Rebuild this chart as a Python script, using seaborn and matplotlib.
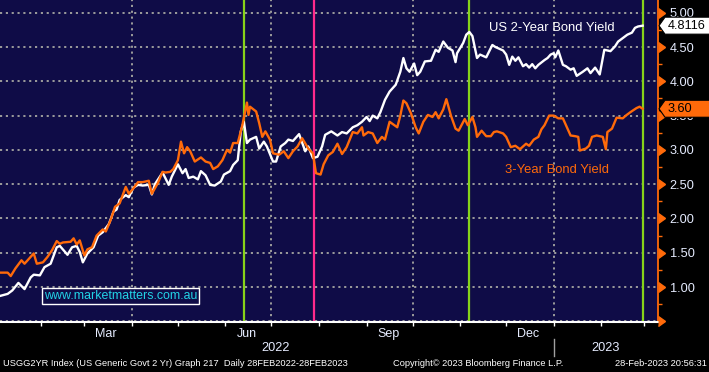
import numpy as np
import pandas as pd
import matplotlib
matplotlib.use("Agg")
import matplotlib.pyplot as plt
import matplotlib.dates as mdates
from matplotlib.ticker import MultipleLocator, FixedLocator, FixedFormatter, NullFormatter, FuncFormatter
from matplotlib.transforms import blended_transform_factory, IdentityTransform
from matplotlib.patches import Polygon
import seaborn as sns

# ---------------- data ----------------
us2_dates = [
    "2022-01-05", "2022-01-10", "2022-01-13", "2022-01-17", "2022-01-21", "2022-01-25", "2022-01-27", "2022-01-31",
    "2022-02-03", "2022-02-07", "2022-02-09", "2022-02-11", "2022-02-13", "2022-02-18", "2022-02-21", "2022-02-24",
    "2022-02-26", "2022-02-28", "2022-03-03", "2022-03-07", "2022-03-10", "2022-03-13", "2022-03-17", "2022-03-20",
    "2022-03-22", "2022-03-24", "2022-03-28", "2022-03-30", "2022-04-02", "2022-04-05", "2022-04-08", "2022-04-12",
    "2022-04-14", "2022-04-16", "2022-04-21", "2022-04-25", "2022-04-27", "2022-05-01", "2022-05-04", "2022-05-06",
    "2022-05-08", "2022-05-11", "2022-05-14", "2022-05-16", "2022-05-19", "2022-05-22", "2022-05-25", "2022-05-29",
    "2022-05-31", "2022-06-04", "2022-06-06", "2022-06-09", "2022-06-11", "2022-06-13", "2022-06-15", "2022-06-17",
    "2022-06-21", "2022-06-23", "2022-06-26", "2022-06-28", "2022-07-02", "2022-07-04", "2022-07-07", "2022-07-10",
    "2022-07-12", "2022-07-15", "2022-07-19", "2022-07-23", "2022-07-25", "2022-07-28", "2022-07-31", "2022-08-03",
    "2022-08-05", "2022-08-09", "2022-08-13", "2022-08-16", "2022-08-19", "2022-08-23", "2022-08-26", "2022-08-29",
    "2022-09-01", "2022-09-03", "2022-09-05", "2022-09-08", "2022-09-10", "2022-09-13", "2022-09-16", "2022-09-20",
    "2022-09-23", "2022-09-25", "2022-09-27", "2022-09-29", "2022-10-02", "2022-10-04", "2022-10-06", "2022-10-09",
    "2022-10-13", "2022-10-16", "2022-10-18", "2022-10-21", "2022-10-24", "2022-10-27", "2022-10-29", "2022-10-30",
    "2022-11-03", "2022-11-05", "2022-11-07", "2022-11-09", "2022-11-12", "2022-11-14", "2022-11-18", "2022-11-22",
    "2022-11-24", "2022-11-29", "2022-12-01", "2022-12-03", "2022-12-05", "2022-12-07", "2022-12-09", "2022-12-12",
    "2022-12-14", "2022-12-16", "2022-12-18", "2022-12-20", "2022-12-22", "2022-12-26", "2022-12-28", "2022-12-30",
    "2023-01-01", "2023-01-02", "2023-01-04", "2023-01-07", "2023-01-09", "2023-01-12", "2023-01-14", "2023-01-16",
    "2023-01-20", "2023-01-23", "2023-01-25", "2023-01-28", "2023-01-31", "2023-02-03", "2023-02-07", "2023-02-10",
    "2023-02-12", "2023-02-15", "2023-02-18", "2023-02-21", "2023-02-23", "2023-02-25", "2023-02-28",
]
us2_yield = [
    0.87, 0.90, 0.95, 1.06, 0.97, 1.14, 1.18, 1.17,
    1.29, 1.34, 1.46, 1.58, 1.60, 1.47, 1.58, 1.60,
    1.51, 1.36, 1.49, 1.58, 1.75, 1.80, 1.92, 2.10,
    2.13, 2.27, 2.34, 2.31, 2.45, 2.49, 2.48, 2.49,
    2.35, 2.50, 2.67, 2.49, 2.61, 2.79, 2.66, 2.72,
    2.59, 2.61, 2.57, 2.69, 2.63, 2.49, 2.48, 2.54,
    2.64, 2.69, 2.78, 2.85, 3.27, 3.41, 3.10, 3.15,
    3.19, 3.02, 3.12, 3.05, 2.83, 2.83, 3.05, 3.10,
    3.15, 3.13, 3.23, 2.98, 3.05, 2.88, 2.90, 3.05,
    3.22, 3.27, 3.21, 3.26, 3.24, 3.33, 3.36, 3.41,
    3.48, 3.42, 3.50, 3.46, 3.55, 3.73, 3.85, 3.95,
    4.14, 4.34, 4.19, 4.14, 4.26, 4.09, 4.14, 4.29,
    4.30, 4.46, 4.43, 4.58, 4.49, 4.45, 4.28, 4.41,
    4.56, 4.68, 4.72, 4.66, 4.34, 4.39, 4.35, 4.53,
    4.50, 4.45, 4.39, 4.24, 4.36, 4.30, 4.35, 4.22,
    4.25, 4.20, 4.25, 4.19, 4.24, 4.31, 4.34, 4.39,
    4.41, 4.35, 4.45, 4.24, 4.22, 4.17, 4.19, 4.08,
    4.14, 4.19, 4.12, 4.20, 4.10, 4.46, 4.44, 4.51,
    4.58, 4.63, 4.68, 4.71, 4.78, 4.80, 4.8116,
]

au3_dates = [
    "2022-01-05", "2022-01-10", "2022-01-12", "2022-01-15", "2022-01-19", "2022-01-21", "2022-01-27", "2022-01-29",
    "2022-02-02", "2022-02-05", "2022-02-08", "2022-02-11", "2022-02-13", "2022-02-15", "2022-02-20", "2022-02-22",
    "2022-02-24", "2022-02-26", "2022-03-01", "2022-03-03", "2022-03-06", "2022-03-09", "2022-03-13", "2022-03-15",
    "2022-03-18", "2022-03-21", "2022-03-24", "2022-03-28", "2022-03-30", "2022-04-02", "2022-04-05", "2022-04-08",
    "2022-04-12", "2022-04-14", "2022-04-18", "2022-04-21", "2022-04-23", "2022-04-26", "2022-04-28", "2022-05-01",
    "2022-05-03", "2022-05-05", "2022-05-07", "2022-05-09", "2022-05-12", "2022-05-16", "2022-05-19", "2022-05-22",
    "2022-05-24", "2022-05-27", "2022-05-30", "2022-06-02", "2022-06-04", "2022-06-06", "2022-06-09", "2022-06-12",
    "2022-06-15", "2022-06-16", "2022-06-17", "2022-06-21", "2022-06-23", "2022-06-25", "2022-06-27", "2022-06-30",
    "2022-07-02", "2022-07-06", "2022-07-09", "2022-07-12", "2022-07-15", "2022-07-18", "2022-07-21", "2022-07-25",
    "2022-07-28", "2022-07-30", "2022-08-02", "2022-08-04", "2022-08-07", "2022-08-10", "2022-08-13", "2022-08-16",
    "2022-08-19", "2022-08-23", "2022-08-26", "2022-08-29", "2022-08-30", "2022-09-02", "2022-09-05", "2022-09-08",
    "2022-09-11", "2022-09-13", "2022-09-16", "2022-09-21", "2022-09-23", "2022-09-25", "2022-09-27", "2022-09-30",
    "2022-10-03", "2022-10-05", "2022-10-08", "2022-10-11", "2022-10-14", "2022-10-16", "2022-10-18", "2022-10-21",
    "2022-10-23", "2022-10-26", "2022-10-29", "2022-10-31", "2022-11-04", "2022-11-06", "2022-11-09", "2022-11-11",
    "2022-11-12", "2022-11-15", "2022-11-18", "2022-11-21", "2022-11-23", "2022-11-25", "2022-11-29", "2022-12-01",
    "2022-12-04", "2022-12-07", "2022-12-10", "2022-12-14", "2022-12-16", "2022-12-19", "2022-12-22", "2022-12-24",
    "2022-12-26", "2022-12-29", "2023-01-01", "2023-01-04", "2023-01-07", "2023-01-09", "2023-01-12", "2023-01-15",
    "2023-01-17", "2023-01-18", "2023-01-22", "2023-01-24", "2023-01-26", "2023-01-29", "2023-02-02", "2023-02-04",
    "2023-02-05", "2023-02-08", "2023-02-11", "2023-02-15", "2023-02-17", "2023-02-20", "2023-02-22", "2023-02-24",
    "2023-02-26", "2023-02-28",
]
au3_yield = [
    1.21, 1.21, 1.16, 1.27, 1.39, 1.34, 1.49, 1.34,
    1.36, 1.44, 1.54, 1.67, 1.63, 1.65, 1.66, 1.71,
    1.62, 1.68, 1.46, 1.55, 1.58, 1.75, 1.84, 1.81,
    1.97, 2.17, 2.22, 2.46, 2.36, 2.44, 2.53, 2.53,
    2.55, 2.36, 2.52, 2.68, 2.67, 2.68, 2.72, 2.85,
    3.12, 2.95, 3.04, 2.98, 2.83, 2.89, 2.83, 2.81,
    2.72, 2.76, 2.85, 3.00, 2.96, 3.10, 3.10, 3.36,
    3.69, 3.51, 3.63, 3.56, 3.39, 3.19, 3.27, 3.15,
    2.95, 2.93, 2.98, 2.88, 2.98, 3.05, 3.17, 3.02,
    2.95, 2.66, 2.64, 2.79, 2.92, 2.97, 3.09, 2.94,
    3.04, 3.26, 3.24, 3.33, 3.21, 3.26, 3.24, 3.10,
    3.19, 3.15, 3.41, 3.33, 3.50, 3.72, 3.68, 3.53,
    3.33, 3.24, 3.41, 3.51, 3.48, 3.55, 3.46, 3.59,
    3.74, 3.50, 3.31, 3.28, 3.45, 3.36, 3.48, 3.33,
    3.19, 3.28, 3.20, 3.20, 3.26, 3.27, 3.24, 3.19,
    3.04, 3.06, 3.01, 3.09, 3.06, 3.15, 3.19, 3.30,
    3.36, 3.50, 3.50, 3.46, 3.46, 3.36, 3.21, 3.20,
    3.19, 2.99, 3.02, 3.06, 3.19, 3.21, 3.19, 3.01,
    3.26, 3.31, 3.47, 3.46, 3.50, 3.55, 3.58, 3.61,
    3.63, 3.60,
]

series_names = ["US 2-Year Bond Yield", "3-Year Bond Yield"]
event_green_dates = ["2022-06-13", "2022-11-07", "2023-02-28"]
event_pink_dates = ["2022-07-29"]
quarter_grid_dates = ["2022-04-01", "2022-07-01", "2022-10-01", "2023-01-01"]
month_labels = ["Mar", "Jun", "Sep", "Dec"]
month_label_dates = ["2022-03-15", "2022-06-15", "2022-09-15", "2022-12-15"]
year_labels = ["2022", "2023"]
year_label_dates = ["2022-07-04", "2023-02-04"]
year_break_date = "2023-01-01"
x_range = ["2022-01-05", "2023-03-10"]
y_range = [0.49, 5.186]
name_label_pos = [("2022-11-20", 4.776), ("2022-11-30", 2.71)]
watermark = "www.marketmatters.com.au"
footer_left = "USGG2YR Index (US Generic Govt 2 Yr) Graph 217  Daily 28FEB2022-28FEB2023"
footer_mid = "Copyright\u00a9 2023 Bloomberg Finance L.P."
footer_right = "28-Feb-2023 20:56:31"

# ---------------- style ----------------
BG = "#0f0c47"
ORANGE = "#ff6a0a"
WHITE = "#ffffff"
TXT = "#e6ecff"
GRID = "#9c9c9c"
GREEN = "#86d31a"
PINK = "#ff2a8c"
CYAN = "#22d3e6"
FONT = ["Liberation Sans", "DejaVu Sans"]

W, H = 709, 372
fig = plt.figure(figsize=(W / 100, H / 100), dpi=100, facecolor="black")
plt.rcParams["font.family"] = FONT
ax = fig.add_axes([0, 1 - 322 / H, 658 / W, 322 / H])
ax.set_facecolor(BG)

df_us = pd.DataFrame({"date": pd.to_datetime(us2_dates), "yield": us2_yield})
df_au = pd.DataFrame({"date": pd.to_datetime(au3_dates), "yield": au3_yield})

# grid
ax.yaxis.set_major_locator(MultipleLocator(0.5))
ax.grid(axis="y", color=GRID, linestyle=(0, (1.1, 1.9)), linewidth=1.4, zorder=1)
for d in quarter_grid_dates:
    ax.axvline(pd.Timestamp(d), color=GRID, linestyle=(0, (1.1, 1.9)), linewidth=1.4, zorder=1)

# event lines
for d in event_green_dates:
    ax.axvline(pd.Timestamp(d), color=GREEN, linewidth=1.6, zorder=2)
for d in event_pink_dates:
    ax.axvline(pd.Timestamp(d), color=PINK, linewidth=1.6, zorder=2)

sns.lineplot(data=df_us, x="date", y="yield", ax=ax, color=WHITE, linewidth=1.7, zorder=3)
sns.lineplot(data=df_au, x="date", y="yield", ax=ax, color=ORANGE, linewidth=1.7, zorder=4)

ax.set_xlim(pd.Timestamp(x_range[0]), pd.Timestamp(x_range[1]))
ax.set_ylim(*y_range)
ax.set_xlabel("")
ax.set_ylabel("")

# spines
for s in ["left", "top"]:
    ax.spines[s].set_visible(False)
ax.spines["right"].set_color(ORANGE)
ax.spines["right"].set_linewidth(1.3)
ax.spines["bottom"].set_color(WHITE)
ax.spines["bottom"].set_linewidth(1.5)

# y axis on right
ax.yaxis.tick_right()
ax.yaxis.set_minor_locator(MultipleLocator(0.25))
ax.yaxis.set_major_formatter(FuncFormatter(lambda v, p: f"{v:.2f}" if 0.75 < v < 5.05 else ""))
ax.tick_params(axis="y", which="major", length=0, pad=8.5, labelcolor=TXT, labelsize=9.2,
               left=False, right=True)
ax.tick_params(axis="y", which="minor", length=3, width=1, color=ORANGE, left=False, right=True)
major_y = [t for t in np.arange(0.5, 5.01, 0.5)]
ax.plot(np.ones(len(major_y)), major_y, ls="none", marker=9, ms=6.5, color=ORANGE,
        transform=blended_transform_factory(ax.transAxes, ax.transData), clip_on=False, zorder=6)

# x axis
ax.xaxis.set_major_locator(mdates.MonthLocator())
ax.xaxis.set_major_formatter(NullFormatter())
ax.xaxis.set_minor_locator(FixedLocator(mdates.date2num(pd.to_datetime(month_label_dates))))
ax.xaxis.set_minor_formatter(FixedFormatter(month_labels))
ax.tick_params(axis="x", which="major", length=3, width=1, color=WHITE, direction="out")
ax.tick_params(axis="x", which="minor", length=0, pad=4, labelsize=9, labelcolor=TXT)

for lbl, d in zip(year_labels, year_label_dates):
    ax.annotate(lbl, xy=(mdates.date2num(pd.Timestamp(d)), 0), xycoords=("data", "axes fraction"),
                xytext=(0, -26), textcoords="offset pixels", ha="center", va="center",
                color=TXT, fontsize=9.2, annotation_clip=False)
yb = mdates.date2num(pd.Timestamp(year_break_date))
ax.plot([yb, yb], [-17 / 322, -34 / 322], transform=blended_transform_factory(ax.transData, ax.transAxes),
        clip_on=False, color="#a0a0a0", lw=1)

# series name labels
ax.text(pd.Timestamp(name_label_pos[0][0]), name_label_pos[0][1], series_names[0], color=WHITE,
        fontsize=9.4, ha="left", va="center", zorder=7)
ax.text(pd.Timestamp(name_label_pos[1][0]), name_label_pos[1][1], series_names[1], color=ORANGE,
        fontsize=9.4, ha="left", va="center", zorder=7)

# watermark
ax.text(0.183, 0.081, watermark, transform=ax.transAxes, color=CYAN, fontsize=8.9, ha="center", va="center",
        bbox=dict(boxstyle="square,pad=0.18", fc=BG, ec=WHITE, lw=1), zorder=7)

# last value tags
fig.canvas.draw()
def tag(value, text, fc, ec):
    ydisp = ax.transData.transform((0, value))[1]
    xl = 659
    pts = [(xl, ydisp), (xl + 6, ydisp + 8.5), (W + 5, ydisp + 8.5), (W + 5, ydisp - 8.5), (xl + 6, ydisp - 8.5)]
    fig.add_artist(Polygon(pts, closed=True, fc=fc, ec=ec, lw=0.8, transform=IdentityTransform(), zorder=8))
    fig.text(668 / W, ydisp / H, text, color="black", fontsize=9.2, ha="left", va="center", zorder=9)

tag(us2_yield[-1], f"{us2_yield[-1]:.4f}", WHITE, "black")
tag(au3_yield[-1], f"{au3_yield[-1]:.2f}", ORANGE, "black")

# footer
fy = 1 - 364 / H
ffam = ["Liberation Sans Narrow", "Liberation Sans"]
fig.text(3 / W, fy, footer_left, color=WHITE, fontsize=6.7, ha="left", va="center", family=ffam)
fig.text(393 / W, fy, footer_mid, color=WHITE, fontsize=6.7, ha="left", va="center", family=ffam)
fig.text(707 / W, fy, footer_right, color=WHITE, fontsize=6.7, ha="right", va="center", family=ffam)

fig.savefig("out.png", dpi=100, facecolor="black")
